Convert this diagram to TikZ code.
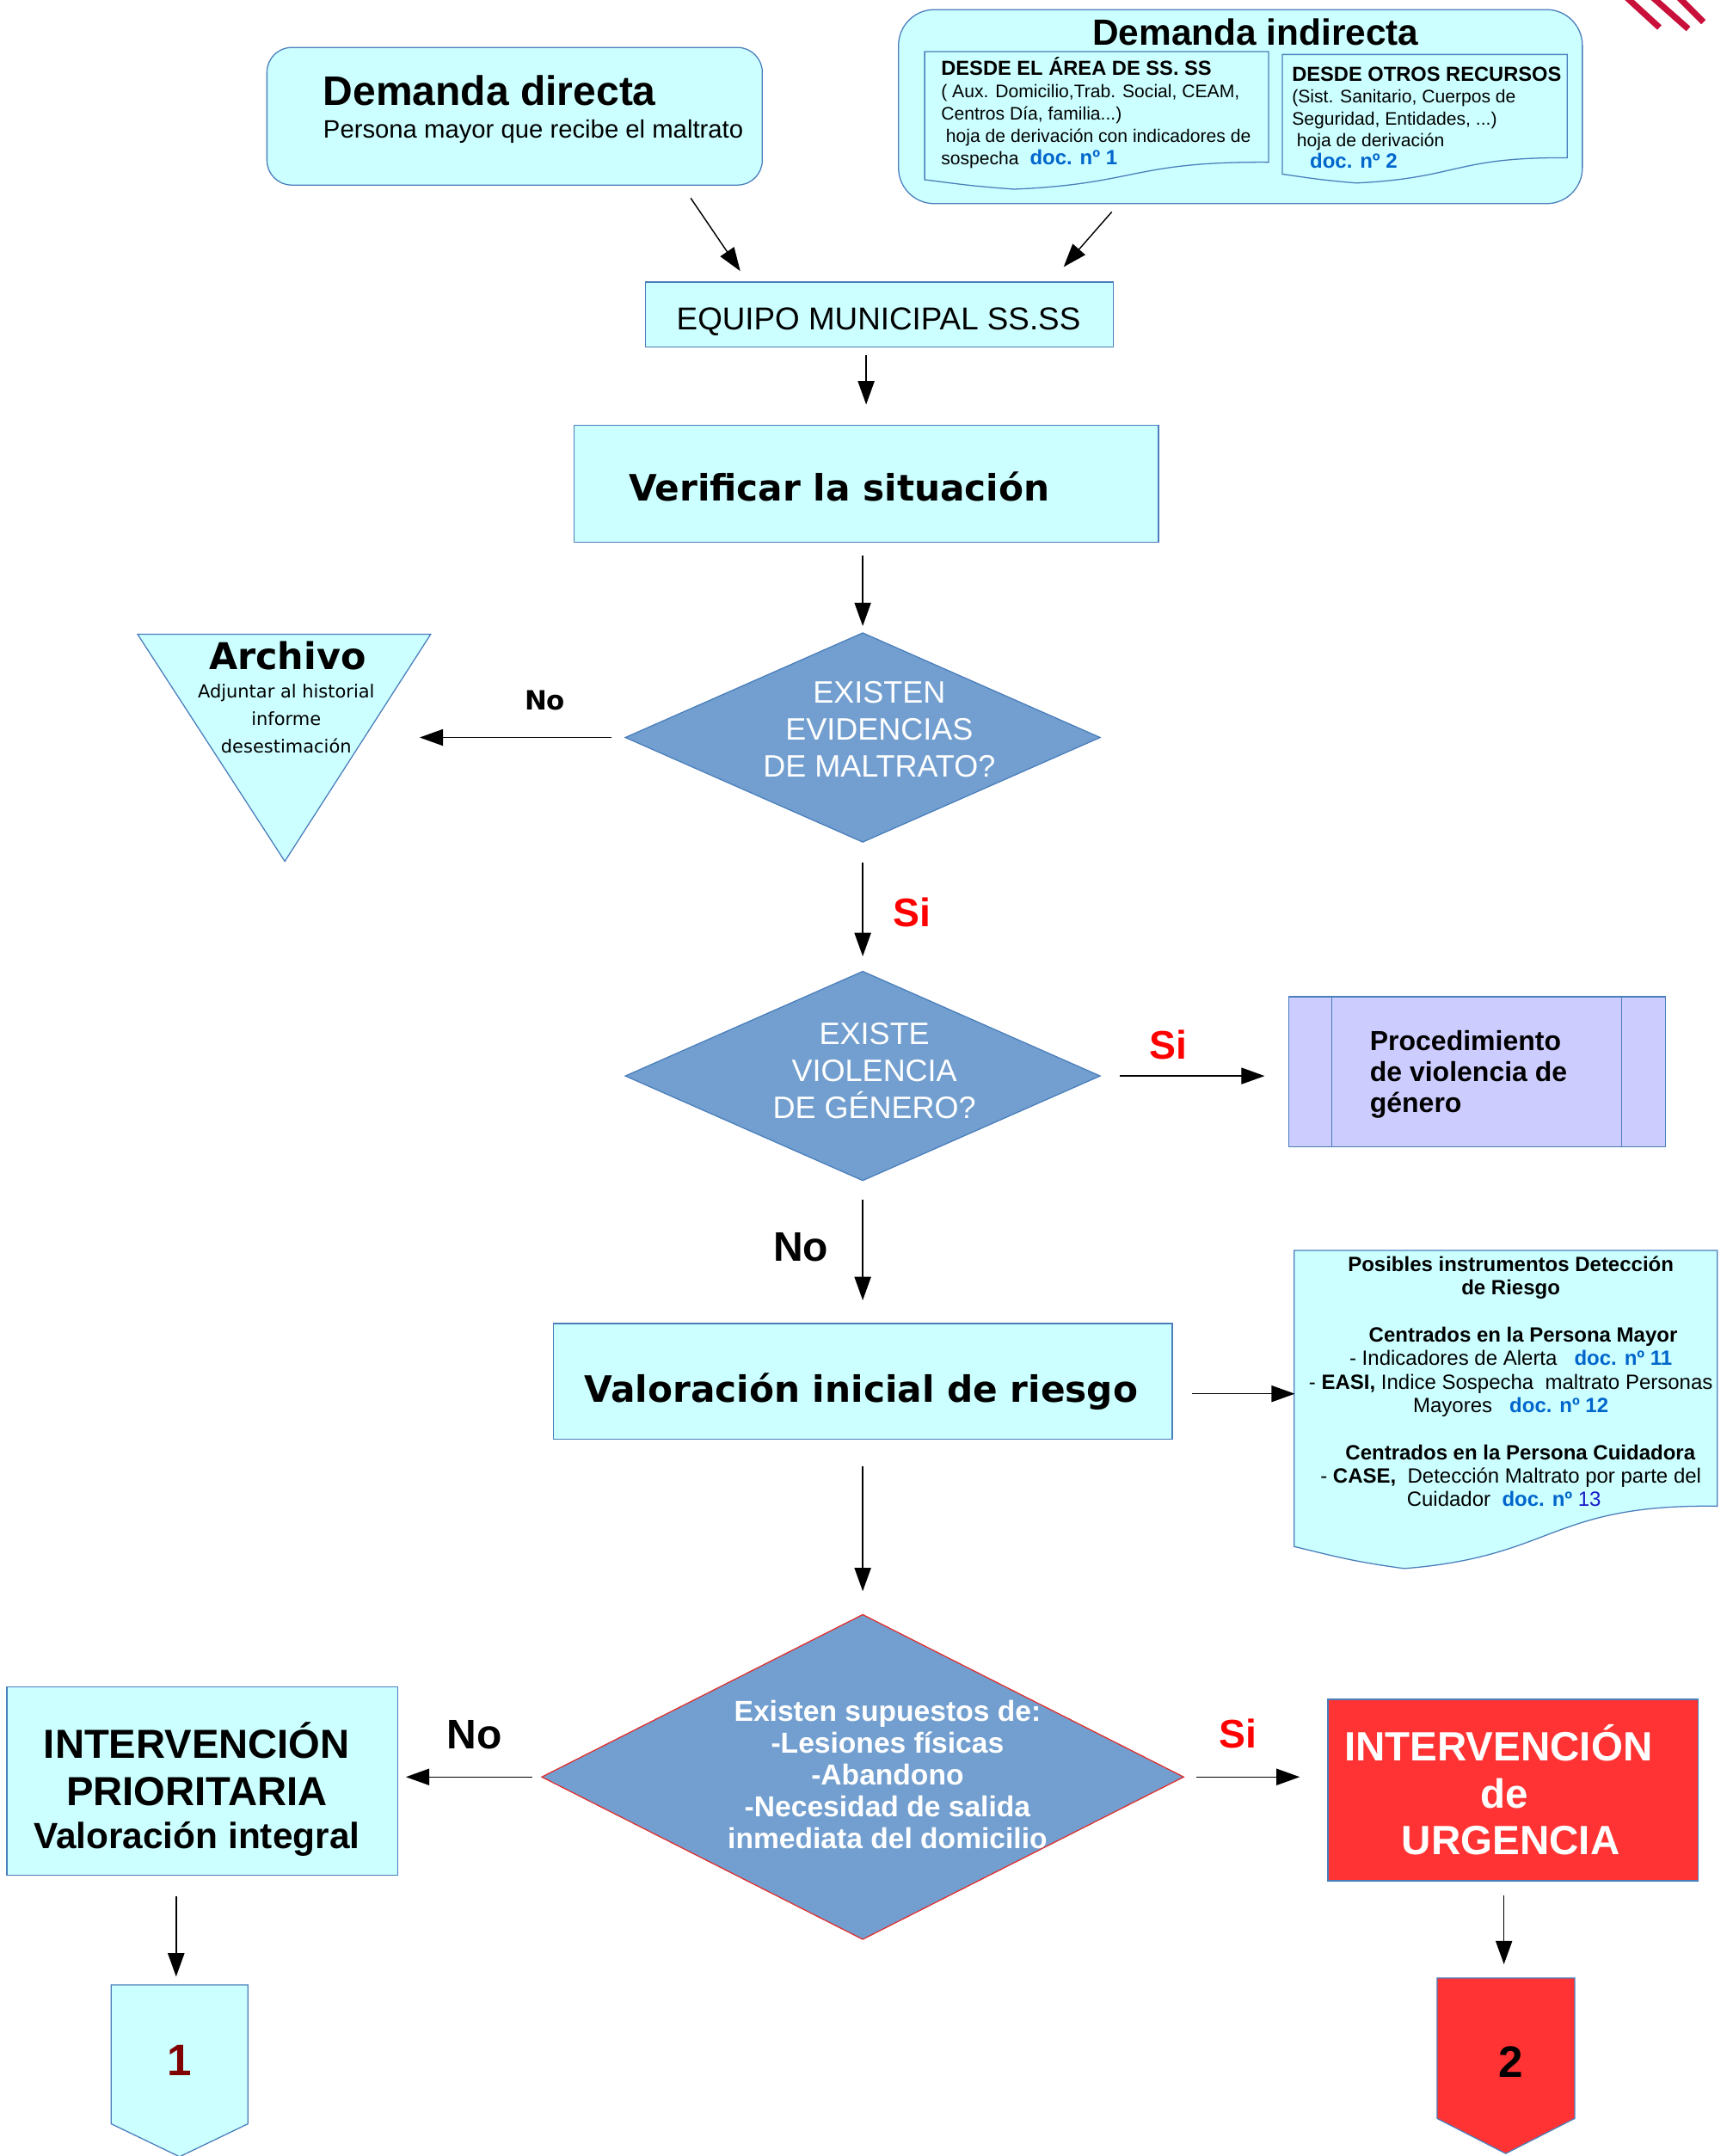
\documentclass[tikz,border=0pt]{standalone}
\usepackage{fontspec}
\setmainfont{Liberation Sans}
\newfontfamily\dvs{DejaVu Sans}
\usetikzlibrary{shapes.geometric, arrows.meta, calc}
\definecolor{cyanf}{HTML}{CCFFFF}
\definecolor{bord}{HTML}{4A7EBB}
\definecolor{diam}{HTML}{729FCF}
\definecolor{procf}{HTML}{CCCCFF}
\definecolor{redf}{HTML}{FF3333}
\definecolor{docblue}{HTML}{0066CC}
\definecolor{docbluetwo}{HTML}{1A1AC8}
\definecolor{sired}{HTML}{FF0000}
\definecolor{darkred}{HTML}{800000}
\definecolor{logored}{HTML}{C8103A}
\definecolor{redborder}{HTML}{E03030}
\newcommand\fs[2]{\fontsize{#1}{#2}\selectfont}
\newcommand\docshape[5]{%
  \begin{scope}[shift={(#2,#3)}, xscale=#4, yscale=#5]
    \path[#1] (0,0) -- (1,0) -- (1,0.804) .. controls (0.604,0.797) and (0.618,0.962) .. (0.26,1) .. controls (0.132,0.977) and (0.086,0.958) .. (0,0.931) -- cycle;
  \end{scope}}
\tikzset{
  box/.style={draw=bord, line width=0.8pt, fill=cyanf, inner sep=0pt, outer sep=0pt, rectangle},
  dia/.style={diamond, draw=bord, line width=0.8pt, fill=diam, inner sep=0pt, outer sep=0pt},
  docsty/.style={draw=bord, line width=0.8pt, fill=cyanf},
  arr/.style={draw=black, line width=0.9pt, -{Triangle[length=17pt,width=12pt]}},
  txt/.style={inner sep=0pt, outer sep=0pt, anchor=base},
}
\begin{document}
\lineskiplimit=-100pt
\begin{tikzpicture}[x=1pt, y=-1pt, line join=miter]
\fill[white] (0,0) rectangle (1259,1567);
\useasboundingbox (0,0) rectangle (1259,1567);

% logo stripes
\begin{scope}
\clip (0,0) rectangle (1259,1567);
\draw[logored, line width=4.5pt] (1182,-2) -- (1206,20);
\draw[logored, line width=4.5pt] (1201,-2) -- (1227,21);
\draw[logored, line width=4.5pt] (1220,-2) -- (1238,16);
\end{scope}

% Demanda directa
\node[box, rounded corners=18pt, minimum width=360pt, minimum height=100pt] (dd) at (374,84.5) {};
\node[txt, anchor=base west, font=\bfseries\fs{30}{36}] (ddt) at (235,76.5) {Demanda directa};
\node[txt, anchor=base west, font=\fs{18.3}{22}] (dds) at (235,100.5) {Persona mayor que recibe el maltrato};

% Demanda indirecta
\node[box, rounded corners=26pt, minimum width=497pt, minimum height=141pt] (di) at (901.5,77.5) {};
\node[txt, font=\bfseries\fs{26.5}{30}] (dit) at (912.5,32.5) {Demanda indirecta};
\docshape{docsty}{672}{37.5}{250}{100}
\docshape{docsty}{932}{39.6}{207}{93.4}
\node[txt, anchor=base west, align=left, font=\fs{13.2}{16.3}] (dia) at (684,119.8) {{\bfseries\fs{14.8}{16.3}DESDE EL ÁREA DE SS. SS}\\( Aux. Domicilio,Trab. Social, CEAM,\\Centros Día, familia...)\\\hspace*{3.5pt}hoja de derivación con indicadores de\\sospecha\hspace*{8pt}{\bfseries\fs{15}{16.3}\color{docblue}doc. nº 1}};
\node[txt, anchor=base west, align=left, font=\fs{13.2}{15.9}] (dib) at (939,122.5) {{\bfseries\fs{14.8}{15.9}DESDE OTROS RECURSOS}\\(Sist. Sanitario, Cuerpos de\\Seguridad, Entidades, ...)\\\hspace*{3.5pt}hoja de derivación\\\hspace*{13pt}{\bfseries\fs{15}{15.9}\color{docblue}doc. nº 2}};

% arrows into EQUIPO
\coordinate (a1s) at (502,144); \coordinate (a1e) at (538,197);
\coordinate (a2s) at (808,154); \coordinate (a2e) at (773,194);
\draw[arr] (a1s) -- (a1e);
\draw[arr] (a2s) -- (a2e);

% EQUIPO
\node[box, minimum width=340pt, minimum height=47pt] (eq) at (639,228.5) {};
\node[txt, font=\fs{23}{27}] (eqt) at (638.5,239.5) {EQUIPO MUNICIPAL SS.SS};

% Verificar
\node[box, minimum width=425pt, minimum height=85pt] (ver) at (629.5,351.5) {};
\node[txt, anchor=base west, font=\dvs\bfseries\fs{26.4}{32}] (vert) at (457,364) {Verificar la situación};
\draw[arr, shorten <=6pt, shorten >=15pt] (ver.north |- eq.south) -- (ver.north);

% Diamond 1
\node[dia, minimum width=345pt, minimum height=152pt] (d1) at (627,536) {};
\node[txt, align=center, text=white, font=\fs{22.5}{26.8}] (d1t) at (639,564.6) {EXISTEN\\EVIDENCIAS\\DE MALTRATO?};
\draw[arr, shorten <=10pt, shorten >=5pt] (d1.north |- ver.south) -- (d1.north);

% Archivo
\path[draw=bord, fill=cyanf, line width=0.8pt] (100,461) -- (313,461) -- (207,626) -- cycle;
\coordinate (archR) at (305,536);
\node[txt, font=\dvs\bfseries\fs{26.8}{30}] (arct) at (209,486.5) {Archivo};
\node[txt, align=center, font=\dvs\fs{13.1}{19.8}] (arcs) at (208,547) {Adjuntar al historial\\informe\\desestimación};
\draw[arr, shorten <=10pt] (d1.west) -- (archR);
\node[txt, font=\dvs\bfseries\fs{19.3}{23}] (no1) at (396,516) {No};

% Diamond 2
\node[dia, minimum width=345pt, minimum height=152pt] (d2) at (627,782) {};
\node[txt, align=center, text=white, font=\fs{22.5}{26.8}] (d2t) at (635.5,813) {EXISTE\\VIOLENCIA\\DE GÉNERO?};
\draw[arr, shorten <=15pt, shorten >=11pt] (d1.south) -- (d2.north);
\node[txt, text=sired, font=\bfseries\fs{29}{33}] (si1) at (663,673.5) {Si};

% Procedimiento
\node[draw=bord, fill=procf, line width=0.8pt, minimum width=274pt, minimum height=109pt, inner sep=0pt] (proc) at (1073.5,779) {};
\draw[bord, line width=0.8pt] ([xshift=32pt]proc.north west) -- ([xshift=32pt]proc.south west);
\draw[bord, line width=0.8pt] ([xshift=-32.5pt]proc.north east) -- ([xshift=-32.5pt]proc.south east);
\node[txt, anchor=base west, align=left, font=\bfseries\fs{20}{22.7}] (proct) at (995.6,808.8) {Procedimiento\\de violencia de\\género};
\draw[arr, shorten <=14pt, shorten >=17pt] (d2.east) -- (proc.west |- d2.east);
\node[txt, text=sired, font=\bfseries\fs{29}{33}] (si2) at (849,770) {Si};

% Valoracion
\node[box, minimum width=450pt, minimum height=84pt] (val) at (627,1004) {};
\node[txt, font=\dvs\bfseries\fs{26.4}{32}] (valt) at (626,1019) {Valoración inicial de riesgo};
\draw[arr, shorten <=14pt, shorten >=17pt] (d2.south) -- (val.north);
\node[txt, font=\bfseries\fs{30}{34}] (no2) at (582,916.5) {No};

% Posibles instrumentos
\docshape{docsty}{940.6}{908.8}{307.4}{231.2}
\coordinate (posin) at (941,1013);
\draw[arr, shorten <=14pt] (val.east |- posin) -- (posin);
\node[txt, align=center, font=\fs{15}{17.1}] (post) at (1098,1095) {\textbf{Posibles instrumentos Detección}\\\textbf{de Riesgo}\\[17.1pt]\hspace*{18pt}\textbf{Centrados en la Persona Mayor}\\- Indicadores de Alerta\ \ \ \textcolor{docblue}{\textbf{doc. nº 11}}\\- \textbf{EASI,} Indice Sospecha\ \ maltrato Personas\\Mayores\ \ \ \textcolor{docblue}{\textbf{doc. nº 12}}\\[17.1pt]\hspace*{14pt}\textbf{Centrados en la Persona Cuidadora}\\- \textbf{CASE,}\ \ Detección Maltrato por parte del\\Cuidador\ \ \textcolor{docblue}{\textbf{doc. nº}} \textcolor{docbluetwo}{13}\hspace*{10pt}};

% Diamond 3
\node[dia, draw=redborder, minimum width=466.5pt, minimum height=236pt] (d3) at (627,1291.5) {};
\node[txt, align=center, text=white, font=\bfseries\fs{21}{23.1}] (d3t) at (645,1343.3) {Existen supuestos de:\\-Lesiones físicas\\-Abandono\\-Necesidad de salida\\inmediata del domicilio};
\draw[arr, shorten <=20pt, shorten >=17pt] (val.south) -- (d3.north);

% Intervencion prioritaria
\node[box, minimum width=284pt, minimum height=137pt] (ip) at (147,1294.5) {};
\node[txt, align=center, font=\bfseries\fs{29.5}{34}] (ipt) at (143,1343.8) {INTERVENCIÓN\\PRIORITARIA\\[-2.4pt]{\fs{26.5}{32}Valoración integral}};
\draw[arr, shorten <=7pt, shorten >=6pt] (d3.west) -- (ip.east |- d3.west);
\node[txt, font=\bfseries\fs{30}{34}] (no3) at (345,1271) {No};

% Intervencion de urgencia
\node[draw=bord, fill=redf, line width=0.8pt, minimum width=269pt, minimum height=132pt, inner sep=0pt] (ur) at (1099.5,1301) {};
\node[txt, align=center, text=white, font=\bfseries\fs{29.7}{34.3}] (urt) at (1093.5,1348.2) {INTERVENCIÓN\hspace*{9pt}\\de\\\hspace*{9pt}URGENCIA};
\draw[arr, shorten <=9pt, shorten >=20pt] (d3.east) -- (ur.west |- d3.east);
\node[txt, text=sired, font=\bfseries\fs{29}{33}] (si3) at (900,1270.5) {Si};

% connector 1
\path[draw=bord, fill=cyanf, line width=0.8pt] (80.8,1442.6) -- (180.2,1442.6) -- (180.2,1543.6) -- (130.5,1567.5) -- (80.8,1543.6) -- cycle;
\coordinate (c1top) at (128,1442.6);
\node[txt, text=darkred, font=\bfseries\fs{32}{36}] (c1t) at (130.5,1508.5) {1};
\draw[arr, shorten <=15pt, shorten >=6pt] (c1top |- ip.south) -- (c1top);

% connector 2
\path[draw=bord, fill=redf, line width=0.8pt] (1044.4,1437.6) -- (1144.4,1437.6) -- (1144.4,1539.7) -- (1094.3,1565.2) -- (1044.4,1539.7) -- cycle;
\coordinate (c2top) at (1093,1437.6);
\node[txt, font=\bfseries\fs{32}{36}] (c2t) at (1098,1510) {2};
\draw[arr, shorten <=10pt, shorten >=10pt] (c2top |- ur.south) -- (c2top);
\end{tikzpicture}
\end{document}
